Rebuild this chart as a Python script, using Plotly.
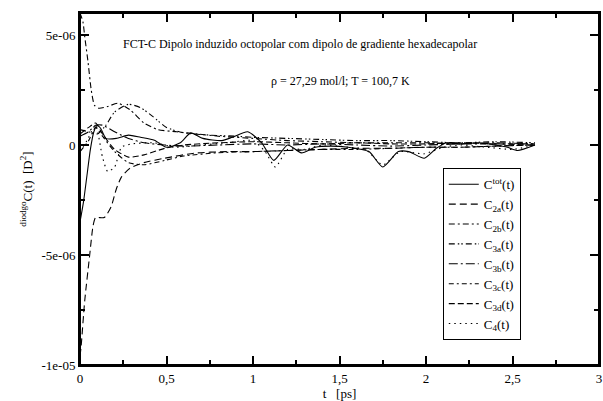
import plotly.graph_objects as go

# valores em unidades de 1e-6 D^2, tempos em ps
t_tot = [0, 0.02, 0.04, 0.06, 0.08, 0.1, 0.12, 0.15, 0.21, 0.28, 0.35, 0.43, 0.5, 0.58, 0.64,
         0.71, 0.82, 0.88, 0.97, 1.05, 1.12, 1.2, 1.28, 1.36, 1.45, 1.55, 1.67, 1.75, 1.84, 1.9,
         1.99, 2.06, 2.12, 2.2, 2.3, 2.4, 2.47, 2.53, 2.63]
c_tot = [-3.5, -2.6, -1.4, -0.2, 0.6, 0.9, 0.75, 0.3, 0.3, 0.45, 0.35, 0.22, -0.1, 0.1, 0.55,
         0.3, 0.2, 0.35, 0.6, 0.1, -0.7, 0.0, -0.36, -0.1, -0.05, -0.1, -0.3, -1.0, -0.3, -0.3,
         -0.6, -0.15, 0.1, 0.05, 0.1, 0.0, -0.1, -0.25, 0.0]

t_2a = [0, 0.006, 0.027, 0.056, 0.075, 0.09, 0.14, 0.18, 0.21, 0.24, 0.29, 0.37, 0.49, 0.66,
        0.85, 1.0, 1.2, 1.4, 1.6, 1.8, 2.0, 2.2, 2.4, 2.63]
c_2a = [-9.6, -9.2, -7.1, -5.0, -3.7, -3.3, -3.3, -2.8, -2.0, -1.45, -1.05, -0.8, -0.6, -0.37,
        -0.3, -0.3, -0.25, -0.2, -0.15, -0.15, -0.1, -0.1, -0.05, 0.0]

t_2b = [0, 0.017, 0.027, 0.046, 0.065, 0.084, 0.11, 0.16, 0.22, 0.29, 0.37, 0.45, 0.56, 0.68,
        0.8, 1.0, 1.2, 1.4, 1.6, 1.8, 2.0, 2.2, 2.4, 2.63]
c_2b = [6.0, 5.6, 4.95, 3.8, 2.5, 1.8, 1.67, 1.75, 1.9, 1.6, 1.0, 0.7, 0.6, 0.5,
        0.4, 0.3, 0.2, 0.15, 0.1, 0.1, 0.1, 0.05, 0.05, 0.05]

t_3a = [0, 0.05, 0.1, 0.15, 0.2, 0.28, 0.35, 0.42, 0.5, 0.6, 0.75, 0.9, 1.0, 1.2, 1.4, 1.6,
        1.8, 2.0, 2.2, 2.4, 2.63]
c_3a = [0.7, 0.6, 0.5, 0.9, 1.5, 1.85, 1.7, 1.3, 0.8, 0.55, 0.45, 0.4, 0.35, 0.3, 0.25, 0.2,
        0.2, 0.15, 0.1, 0.15, 0.1]

t_3 = [0, 0.05, 0.09, 0.13, 0.2, 0.28, 0.37, 0.49, 0.6, 0.8, 1.0, 1.2, 1.4, 1.6, 1.8, 2.0,
       2.2, 2.4, 2.63]
c_3b = [0.4, 0.6, 0.9, 0.9, 0.6, 0.3, 0.1, 0.0, -0.05, 0.0, 0.05, 0.0, 0.05, 0.0, -0.05, 0.0,
        0.05, 0.1, 0.05]
c_3c = [-0.3, 0.2, 0.8, 0.4, -0.3, -0.8, -0.9, -0.7, -0.5, -0.35, -0.3, -0.25, -0.2, -0.2,
        -0.15, -0.1, -0.1, -0.05, 0.0]
c_3d = [0.5, 0.8, 1.0, 0.5, -0.2, -0.55, -0.45, -0.15, 0.0, 0.1, 0.15, 0.1, 0.05, 0.1, 0.05,
        0.05, 0.1, 0.05, 0.0]

t_4 = [0, 0.04, 0.09, 0.13, 0.16, 0.2, 0.24, 0.3, 0.43, 0.55, 0.7, 0.85, 1.0, 1.07, 1.13, 1.2,
       1.3, 1.4, 1.55, 1.65, 1.75, 1.85, 1.99, 2.1, 2.2, 2.35, 2.5, 2.63]
c_4 = [-0.3, 0.2, 0.9, -0.55, -1.2, -1.0, -0.1, 0.05, 0.1, -0.1, 0.0, 0.1, 0.2, -0.3, -1.0, -0.2,
       -0.2, 0.0, -0.1, -0.2, -0.9, -0.3, -0.4, -0.1, 0.0, -0.1, -0.2, 0.0]

series = [
    ("C<sup>tot</sup>(t)", t_tot, c_tot, "solid"),
    ("C<sub>2a</sub>(t)", t_2a, c_2a, "7px,4px"),
    ("C<sub>2b</sub>(t)", t_2b, c_2b, "6px,3px,2px,3px"),
    ("C<sub>3a</sub>(t)", t_3a, c_3a, "6px,3px,1.5px,2px,1.5px,3px"),
    ("C<sub>3b</sub>(t)", t_3, c_3b, "9px,3px,2px,3px"),
    ("C<sub>3c</sub>(t)", t_3, c_3c, "5px,3px,2px,3px"),
    ("C<sub>3d</sub>(t)", t_3, c_3d, "6px,3px"),
    ("C<sub>4</sub>(t)", t_4, c_4, "1.5px,4px"),
]

fig = go.Figure()
for name, t, c, dash in series:
    fig.add_trace(go.Scatter(
        x=t, y=[v * 1e-6 for v in c], mode="lines", name=name,
        line=dict(color="black", width=1.1, dash=dash, shape="spline", smoothing=0.6)
    ))

axis_common = dict(
    showline=True, linecolor="black", linewidth=2, mirror="allticks",
    ticks="inside", ticklen=9, tickcolor="black", tickwidth=1.5,
    showgrid=False, zeroline=False,
    tickfont=dict(family="Liberation Serif", size=13, color="black"),
)

fig.update_layout(
    width=603, height=401,
    margin=dict(l=80, r=2, t=13, b=34),
    paper_bgcolor="white", plot_bgcolor="white",
    font=dict(family="Liberation Serif", size=13, color="black"),
    showlegend=True,
    legend=dict(
        x=0.699, y=0.559, xanchor="left", yanchor="top",
        bordercolor="black", borderwidth=1, bgcolor="white",
        font=dict(family="Liberation Serif", size=13), tracegroupgap=0,
    ),
    xaxis=dict(
        range=[0, 3], tickvals=[0, 0.5, 1, 1.5, 2, 2.5, 3],
        ticktext=["0", "0,5", "1", "1,5", "2", "2,5", "3"],
        minor=dict(dtick=0.25, ticks="inside", ticklen=5, tickcolor="black", tickwidth=1.5),
        title=dict(text="t\u00a0\u00a0\u00a0[ps]", standoff=4,
                   font=dict(family="Liberation Serif", size=13)),
        **axis_common,
    ),
    yaxis=dict(
        range=[-1e-05, 6e-06], tickvals=[-1e-05, -5e-06, 0, 5e-06],
        ticktext=["-1e-05", "-5e-06", "0", "5e-06"],
        minor=dict(dtick=2.5e-06, ticks="inside", ticklen=5, tickcolor="black", tickwidth=1.5),
        title=dict(text="<sup>diodgo</sup>C(t)\u00a0\u00a0[D<sup>2</sup>]", standoff=6,
                   font=dict(family="Liberation Serif", size=13)),
        **axis_common,
    ),
    shapes=[dict(type="rect", xref="paper", yref="paper", x0=0, y0=0, x1=1, y1=1,
                 line=dict(color="black", width=2))],
    annotations=[
        dict(x=1.27, y=4.6e-06, xref="x", yref="y", showarrow=False,
             text="FCT-C Dipolo induzido octopolar com dipolo de gradiente hexadecapolar",
             font=dict(family="Liberation Serif", size=12)),
        dict(x=1.506, y=2.93e-06, xref="x", yref="y", showarrow=False,
             text="\u03c1 = 27,29 mol/l; T = 100,7 K",
             font=dict(family="Liberation Serif", size=12)),
    ],
)

fig.write_html("out.html", config={"displayModeBar": False},
               post_script="document.body.style.margin='0';")
